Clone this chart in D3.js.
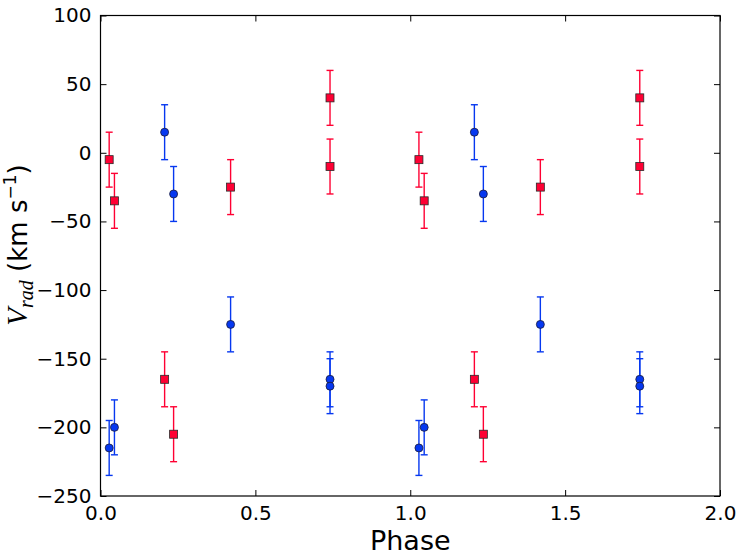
<!DOCTYPE html>
<html>
<head>
<meta charset="utf-8">
<script src="https://cdn.jsdelivr.net/npm/d3@7"></script>
<style>
  body { margin: 0; background: #fff; }
  svg { display: block; }
</style>
</head>
<body>
<script>
// phases of the observations (the curve is shown twice, phase + 1)
var phases = [0.028, 0.045, 0.207, 0.236, 0.42, 0.741, 0.741];
// radial velocities, component 1 (red squares)
var vRed = [-5, -35, -165, -205, -25, 40, -10];
// radial velocities, component 2 (blue circles)
var vBlue = [-215, -200, 15, -30, -125, -165, -170];
// 1-sigma errors (same for every point)
var errRed = [20, 20, 20, 20, 20, 20, 20];
var errBlue = [20, 20, 20, 20, 20, 20, 20];

var xTicks = [0, 0.5, 1, 1.5, 2];
var yTicks = [-250, -200, -150, -100, -50, 0, 50, 100];

var W = 740, H = 556;
var margin = { left: 100.5, top: 15.5, right: 20, bottom: 60 };

var svg = d3.select('body').append('svg')
    .attr('width', W)
    .attr('height', H);

var x = d3.scaleLinear().domain([0, 2]).range([margin.left, W - margin.right]);
var y = d3.scaleLinear().domain([-250, 100]).range([H - margin.bottom, margin.top]);

function expand(vals, errs) {
    var out = [];
    [0, 1].forEach(function (shift) {
        vals.forEach(function (v, i) {
            out.push({ p: phases[i] + shift, v: v, e: errs[i] });
        });
    });
    return out;
}

var redData = expand(vRed, errRed);
var blueData = expand(vBlue, errBlue);

var tickFont = 'DejaVu Sans, sans-serif';
var fmt = function (d) { return d3.format('.1f')(d); };
var yfmt = function (d) { return d < 0 ? '\u2212' + Math.abs(d) : String(d); };

// axes with inward ticks
var tickLen = 6;
var gx = svg.append('g').attr('transform', 'translate(0,' + y(-250) + ')')
    .call(d3.axisBottom(x).tickValues(xTicks).tickFormat(fmt).tickSizeInner(-tickLen).tickSizeOuter(0).tickPadding(10));
var gxTop = svg.append('g').attr('transform', 'translate(0,' + y(100) + ')')
    .call(d3.axisTop(x).tickValues(xTicks).tickFormat('').tickSizeInner(-tickLen).tickSizeOuter(0));
var gy = svg.append('g').attr('transform', 'translate(' + x(0) + ',0)')
    .call(d3.axisLeft(y).tickValues(yTicks).tickFormat(yfmt).tickSizeInner(-tickLen).tickSizeOuter(0).tickPadding(9));
var gyRight = svg.append('g').attr('transform', 'translate(' + x(2) + ',0)')
    .call(d3.axisRight(y).tickValues(yTicks).tickFormat('').tickSizeInner(-tickLen).tickSizeOuter(0));

[gx, gxTop, gy, gyRight].forEach(function (g) {
    g.select('.domain').remove();
    g.selectAll('.tick line').attr('stroke', '#000').attr('stroke-width', 1);
    g.selectAll('.tick text').attr('font-family', tickFont).attr('font-size', 20).attr('fill', '#000');
});
gx.selectAll('.tick text').attr('dy', '0.71em');

// frame
svg.append('rect')
    .attr('x', x(0)).attr('y', y(100))
    .attr('width', x(2) - x(0)).attr('height', y(-250) - y(100))
    .attr('fill', 'none').attr('stroke', '#000').attr('stroke-width', 1.2);

function errorBars(data, color) {
    var cap = 3.5;
    var g = svg.append('g').attr('stroke', color).attr('stroke-width', 1.4).attr('fill', 'none');
    data.forEach(function (d) {
        g.append('line').attr('x1', x(d.p)).attr('x2', x(d.p)).attr('y1', y(d.v - d.e)).attr('y2', y(d.v + d.e));
        g.append('line').attr('x1', x(d.p) - cap).attr('x2', x(d.p) + cap).attr('y1', y(d.v - d.e)).attr('y2', y(d.v - d.e));
        g.append('line').attr('x1', x(d.p) - cap).attr('x2', x(d.p) + cap).attr('y1', y(d.v + d.e)).attr('y2', y(d.v + d.e));
    });
}

var red = '#ff0033', blue = '#0638f0';
errorBars(redData, red);
errorBars(blueData, blue);

svg.append('g').selectAll('rect').data(redData).enter().append('rect')
    .attr('x', function (d) { return x(d.p) - 4; })
    .attr('y', function (d) { return y(d.v) - 4; })
    .attr('width', 8).attr('height', 8)
    .attr('fill', red).attr('stroke', '#2a2a2a').attr('stroke-width', 0.8);

svg.append('g').selectAll('circle').data(blueData).enter().append('circle')
    .attr('cx', function (d) { return x(d.p); })
    .attr('cy', function (d) { return y(d.v); })
    .attr('r', 4)
    .attr('fill', blue).attr('stroke', '#1a1a3a').attr('stroke-width', 0.8);

// axis labels
svg.append('text')
    .attr('x', (x(0) + x(2)) / 2).attr('y', 550)
    .attr('text-anchor', 'middle')
    .attr('font-family', tickFont).attr('font-size', 27)
    .text('Phase');

var yl = svg.append('text')
    .attr('transform', 'translate(27,245) rotate(-90)')
    .attr('text-anchor', 'middle')
    .attr('font-family', tickFont).attr('font-size', 26);
yl.append('tspan').attr('font-family', 'Liberation Serif, serif').attr('font-style', 'italic').attr('font-size', 29).text('V');
yl.append('tspan').attr('font-family', 'Liberation Serif, serif').attr('font-style', 'italic').attr('font-size', 20).attr('dy', 6).text('rad');
yl.append('tspan').attr('dy', -6).text(' (km s');
yl.append('tspan').attr('font-size', 17).attr('dy', -11).text('\u22121');
yl.append('tspan').attr('dy', 11).text(')');
</script>
</body>
</html>
